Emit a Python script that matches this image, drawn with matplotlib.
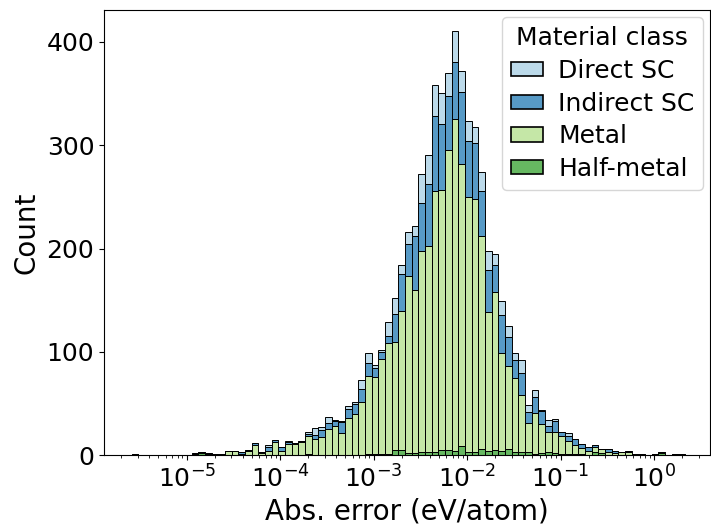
import numpy as np
import matplotlib
matplotlib.use("Agg")
import matplotlib.pyplot as plt
from matplotlib.patches import Patch
from matplotlib.colors import to_rgba

# ---- data (counts per log-spaced bin) ----
log_lo, log_hi, n_bins = -5.588, 0.332, 83

classes = ["Direct SC", "Indirect SC", "Metal", "Half-metal"]
colors = ["#a6cee3", "#1f78b4", "#b2df8a", "#33a02c"]

direct_sc = [0, 0, 0, 0, 0, 0, 0, 0, 0, 0,
             0, 0, 0, 0, 0, 0, 0, 0, 0, 0,
             2, 0, 0, 1, 0, 0, 2, 6, 3, 6,
             1, 1, 3, 2, 9, 10, 3, 2, 14, 15,
             9, 12, 10, 28, 28, 30, 30, 22, 30, 21,
             19, 16, 18, 19, 11, 13, 11, 7, 12, 7,
             7, 1, 6, 2, 0, 3, 0, 0, 0, 0,
             0, 0, 0, 0, 0, 0, 0, 0, 0, 0,
             0, 0, 0]
indirect_sc = [0, 0, 0, 0, 0, 0, 0, 0, 0, 1,
               0, 1, 0, 0, 0, 0, 2, 1, 2, 1,
               4, 2, 4, 2, 1, 1, 2, 4, 6, 6,
               5, 10, 9, 10, 12, 12, 8, 7, 6, 27,
               35, 31, 52, 46, 60, 72, 63, 53, 55, 69,
               54, 54, 44, 40, 26, 37, 28, 17, 22, 11,
               15, 13, 5, 10, 4, 5, 6, 4, 4, 2,
               0, 3, 2, 0, 1, 0, 0, 0, 0, 0,
               0, 0, 0]
metal = [1, 0, 0, 0, 0, 0, 0, 0, 0, 1,
         1, 1, 1, 1, 4, 4, 1, 4, 10, 2,
         4, 13, 4, 11, 11, 13, 18, 16, 18, 25,
         28, 22, 36, 40, 52, 76, 75, 92, 108, 105,
         135, 171, 158, 195, 199, 253, 252, 290, 321, 273,
         247, 245, 206, 135, 153, 95, 80, 72, 55, 28,
         40, 28, 20, 21, 18, 13, 9, 6, 4, 5,
         4, 3, 2, 3, 3, 1, 1, 0, 1, 1,
         0, 1, 1]
half_metal = [0, 0, 0, 0, 0, 0, 0, 0, 0, 0,
              2, 0, 0, 0, 0, 0, 0, 0, 0, 0,
              0, 0, 0, 0, 0, 0, 1, 0, 0, 0,
              0, 0, 0, 0, 0, 1, 1, 1, 1, 5,
              5, 2, 2, 3, 3, 3, 5, 5, 4, 9,
              3, 3, 6, 4, 5, 4, 6, 3, 3, 3,
              1, 2, 3, 2, 1, 1, 1, 1, 0, 3,
              2, 0, 0, 0, 0, 0, 0, 0, 0, 2,
              0, 0, 0]

series = [direct_sc, indirect_sc, metal, half_metal]

# ---- figure ----
fig = plt.figure(figsize=(7.11, 5.25), dpi=100)
ax = fig.add_axes([104 / 711, (525 - 455.3) / 525, 606 / 711, 445.3 / 525])

edges = np.logspace(log_lo, log_hi, n_bins + 1)
widths = np.diff(edges)
bottom = np.zeros(n_bins)
# stack from the bottom: Half-metal, Metal, Indirect SC, Direct SC
for name, col, vals in list(zip(classes, colors, series))[::-1]:
    vals = np.asarray(vals, dtype=float)
    ax.bar(edges[:-1], vals, width=widths, bottom=bottom, align="edge",
           color=to_rgba(col, 0.75), edgecolor="black", linewidth=0.7)
    bottom += vals

ax.set_xscale("log")
ax.set_xlim(10 ** -5.884, 10 ** 0.599)
ax.set_ylim(0, 430.7)

ax.set_xlabel("Abs. error (eV/atom)", fontsize=20)
ax.set_ylabel("Count", fontsize=20)
ax.tick_params(axis="both", which="major", labelsize=18)

handles = [Patch(facecolor=to_rgba(c, 0.75), edgecolor="black", linewidth=1.2)
           for c in colors]
leg = ax.legend(handles, classes, title="Material class", loc="upper right",
                bbox_to_anchor=(0.9885, 0.9836), borderaxespad=0,
                fontsize=18, title_fontsize=18, handlelength=1.3,
                handleheight=0.5, handletextpad=0.6, labelspacing=0.35,
                borderpad=0.35)

fig.savefig("out.png", dpi=100)
